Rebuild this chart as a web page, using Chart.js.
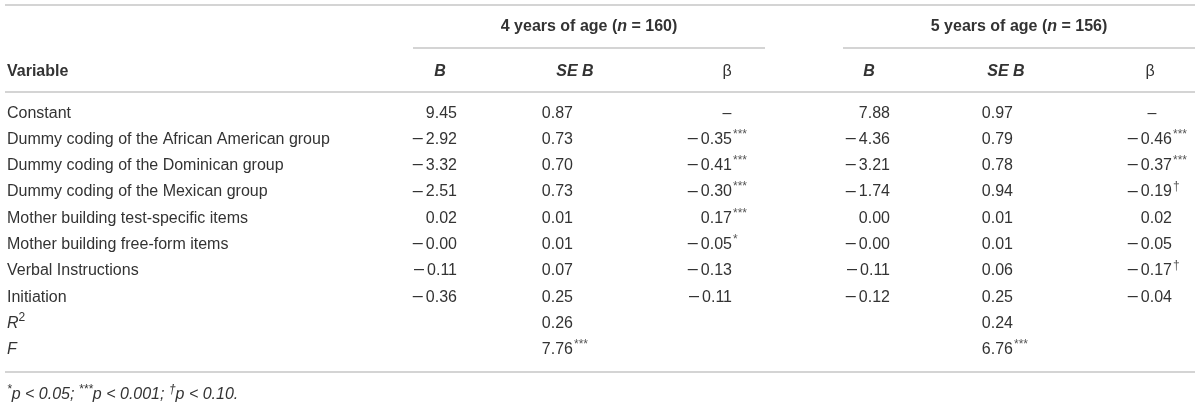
<!DOCTYPE html>
<html lang="en">
<head>
<meta charset="UTF-8" />
<title>Regression table: 4 and 5 years of age</title>
<script src="https://cdn.jsdelivr.net/npm/chart.js"></script>
<style>
  html, body { margin: 0; padding: 0; background: #fff; }
  #table { display: block; }
</style>
</head>
<body>
<canvas id="table" width="1200" height="406"></canvas>
<script>
// Table rows
const variables = [
  "Constant",
  "Dummy coding of the African American group",
  "Dummy coding of the Dominican group",
  "Dummy coding of the Mexican group",
  "Mother building test-specific items",
  "Mother building free-form items",
  "Verbal Instructions",
  "Initiation",
  "R2",
  "F",
];

// Group and column headers
const groups = ["4 years of age", "5 years of age"];
const groupN = [160, 156];
const columns = ["B", "SE B", "\u03B2"];

// 4 years of age
const b4 = [9.45, -2.92, -3.32, -2.51, 0.02, -0.00, -0.11, -0.36, null, null];
const se4 = [0.87, 0.73, 0.70, 0.73, 0.01, 0.01, 0.07, 0.25, 0.26, 7.76];
const se4Sig = ["", "", "", "", "", "", "", "", "", "***"];
const beta4 = ["\u2013", -0.35, -0.41, -0.30, 0.17, -0.05, -0.13, -0.11, null, null];
const beta4Sig = ["", "***", "***", "***", "***", "*", "", "", "", ""];

// 5 years of age
const b5 = [7.88, -4.36, -3.21, -1.74, 0.00, -0.00, -0.11, -0.12, null, null];
const se5 = [0.97, 0.79, 0.78, 0.94, 0.01, 0.01, 0.06, 0.25, 0.24, 6.76];
const se5Sig = ["", "", "", "", "", "", "", "", "", "***"];
const beta5 = ["\u2013", -0.46, -0.37, -0.19, 0.02, -0.05, -0.17, -0.04, null, null];
const beta5Sig = ["", "***", "***", "\u2020", "", "", "\u2020", "", "", ""];

// Fonts and colours
const FAM = "'Liberation Sans', Arial, Helvetica, sans-serif";
const REG = "16px " + FAM;
const DASH = "18px " + FAM;
const BOLD = "bold 16px " + FAM;
const BI = "italic bold 16px " + FAM;
const IT = "italic 16px " + FAM;
const SUP = "12px " + FAM;
const SUPI = "italic 12px " + FAM;
const INK = "#333333";
const STAR = "#555555";
const RULE = "#d4d4d4";

// Layout (x in canvas pixels on the hidden linear x scale)
const LEFT = 7;
const valueX = [457, 573, 732, 890, 1013, 1172]; // right edge of the number
const headX = [440, 575, 727, 869, 1006, 1150];  // header centres
const dashX = [727, 1152];
const groupSpan = [[413, 765], [843, 1195]];
const ruleY = { top: 5, group: 48, head: 92, bottom: 372 };
const textY = { group: 27, head: 72, note: 395 };

function numRuns(v) {
  if (typeof v === "string") return [{ t: v }];
  const neg = v < 0 || Object.is(v, -0);
  const digits = Math.abs(v).toFixed(2);
  return neg
    ? [{ t: "\u2013", f: DASH, dy: -1.5 }, { gap: 3 }, { t: digits }]
    : [{ t: digits }];
}

function drawRuns(ctx, runs, x, y, align) {
  let w = 0;
  runs.forEach((r) => {
    ctx.font = r.f || REG;
    r.w = r.gap !== undefined ? r.gap : ctx.measureText(r.t).width;
    w += r.w;
  });
  let cx = align === "right" ? x - w : align === "center" ? x - w / 2 : x;
  runs.forEach((r) => {
    if (r.t) {
      ctx.font = r.f || REG;
      ctx.fillText(r.t, cx, y + (r.dy || 0));
    }
    cx += r.w;
  });
}

function labelRuns(name) {
  if (name === "R2") return [{ t: "R", f: IT }, { t: "2", f: SUP, dy: -6 }];
  if (name === "F") return [{ t: "F", f: IT }];
  return [{ t: name }];
}

// one dataset per value column; every cell is a point on the scales
function column(values, sig, ci, dash) {
  return {
    label: columns[ci % 3],
    data: values.map((v, i) => ({
      x: typeof v === "string" ? dash : valueX[ci],
      y: variables[i],
      v: v,
      s: sig ? sig[i] : "",
    })),
    pointRadius: 0,
    showLine: false,
  };
}

const datasets = [
  column(b4, null, 0),
  column(se4, se4Sig, 1),
  column(beta4, beta4Sig, 2, dashX[0]),
  column(b5, null, 3),
  column(se5, se5Sig, 4),
  column(beta5, beta5Sig, 5, dashX[1]),
];

const tablePlugin = {
  id: "tablePlugin",
  afterDatasetsDraw(chart) {
    const ctx = chart.ctx;
    const xs = chart.scales.x;
    const ys = chart.scales.y;
    ctx.save();
    ctx.fillStyle = INK;
    ctx.textBaseline = "middle";
    ctx.textAlign = "left";

    // rules
    ctx.strokeStyle = RULE;
    ctx.lineWidth = 2;
    const hline = (y, x0, x1) => {
      ctx.beginPath();
      ctx.moveTo(xs.getPixelForValue(x0), y);
      ctx.lineTo(xs.getPixelForValue(x1), y);
      ctx.stroke();
    };
    hline(ruleY.top, 5, 1195);
    groupSpan.forEach((g) => hline(ruleY.group, g[0], g[1]));
    hline(ruleY.head, 5, 1195);
    hline(ruleY.bottom, 5, 1195);

    // group headers
    groups.forEach((g, gi) => {
      const cx = xs.getPixelForValue((groupSpan[gi][0] + groupSpan[gi][1]) / 2);
      drawRuns(ctx, [
        { t: g + " (", f: BOLD },
        { t: "n", f: BI },
        { t: " = " + groupN[gi] + ")", f: BOLD },
      ], cx, textY.group, "center");
    });

    // column headers
    drawRuns(ctx, [{ t: "Variable", f: BOLD }], LEFT, textY.head, "left");
    headX.forEach((hx, i) => {
      const name = columns[i % 3];
      drawRuns(ctx, [{ t: name, f: name === "\u03B2" ? REG : BI }],
        xs.getPixelForValue(hx), textY.head, "center");
    });

    // row labels
    variables.forEach((name, i) => {
      drawRuns(ctx, labelRuns(name), LEFT, ys.getPixelForValue(i), "left");
    });

    // cells
    chart.data.datasets.forEach((ds, di) => {
      const meta = chart.getDatasetMeta(di);
      meta.data.forEach((pt, j) => {
        const raw = ds.data[j];
        if (raw.v === null || raw.v === undefined) return;
        if (typeof raw.v === "string") {
          drawRuns(ctx, [{ t: raw.v }], pt.x, pt.y, "center");
          return;
        }
        drawRuns(ctx, numRuns(raw.v), pt.x, pt.y, "right");
        if (raw.s) {
          ctx.fillStyle = STAR;
          drawRuns(ctx, [{ t: raw.s, f: SUP, dy: -5 }], pt.x + 1, pt.y, "left");
          ctx.fillStyle = INK;
        }
      });
    });

    // footnote
    drawRuns(ctx, [
      { t: "*", f: SUPI, dy: -5 },
      { t: "p < 0.05; ", f: IT },
      { t: "***", f: SUPI, dy: -5 },
      { t: "p < 0.001; ", f: IT },
      { t: "\u2020", f: SUPI, dy: -5 },
      { t: "p < 0.10.", f: IT },
    ], LEFT, textY.note, "left");

    ctx.restore();
  },
};

new Chart(document.getElementById("table"), {
  type: "scatter",
  data: { datasets: datasets },
  options: {
    responsive: false,
    animation: false,
    events: [],
    layout: { padding: { top: 100, bottom: 43, left: 0, right: 0 } },
    plugins: { legend: { display: false }, tooltip: { enabled: false } },
    scales: {
      x: { type: "linear", min: 0, max: 1200, display: false },
      y: { type: "category", labels: variables, offset: true, display: false },
    },
  },
  plugins: [tablePlugin],
});
</script>
</body>
</html>
